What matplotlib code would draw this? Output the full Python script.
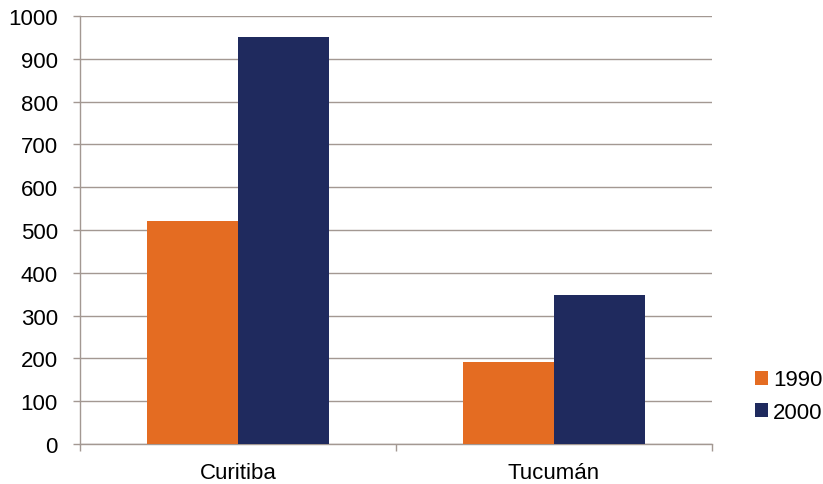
import numpy as np
import matplotlib
matplotlib.use("Agg")
import matplotlib.pyplot as plt

cities = ["Curitiba", "Tucumán"]
years = ["1990", "2000"]
values_1990 = [522, 191]
values_2000 = [950, 347]

colors = ["#E46C22", "#1F2A5E"]
grid_color = "#A39892"

plt.rcParams["font.family"] = ["Liberation Sans", "DejaVu Sans"]

fig = plt.figure(figsize=(8.23, 4.85), dpi=100)
ax = fig.add_axes([80 / 823, 40 / 485, 632 / 823, 428 / 485])

x = np.arange(len(cities))
w = 0.287
ax.bar(x - w / 2, values_1990, width=w, color=colors[0], label=years[0], zorder=3)
ax.bar(x + w / 2, values_2000, width=w, color=colors[1], label=years[1], zorder=3)

ax.set_xlim(-0.5, 1.5)
ax.set_ylim(0, 1000)
ax.set_yticks(np.arange(0, 1001, 100))
ax.set_xticks(x)
ax.set_xticklabels(cities)
ax.set_xticks([-0.5, 0.5, 1.5], minor=True)

ax.tick_params(axis="x", which="major", length=0, pad=13, labelsize=16)
ax.tick_params(axis="x", which="minor", length=5, color=grid_color, width=1)
ax.tick_params(axis="y", length=5, color=grid_color, width=1, pad=11, labelsize=16)

ax.grid(axis="y", color=grid_color, linewidth=1, zorder=0)
for s in ["top", "right"]:
    ax.spines[s].set_visible(False)
for s in ["left", "bottom"]:
    ax.spines[s].set_color(grid_color)
    ax.spines[s].set_linewidth(1)

ax.legend(loc="center left", bbox_to_anchor=(735 / 823, 1 - 397 / 485),
          bbox_transform=fig.transFigure, frameon=False, fontsize=16,
          handlelength=0.6, handleheight=0.6, handletextpad=0.2, labelspacing=0.5)

fig.savefig("out.png", dpi=100)
